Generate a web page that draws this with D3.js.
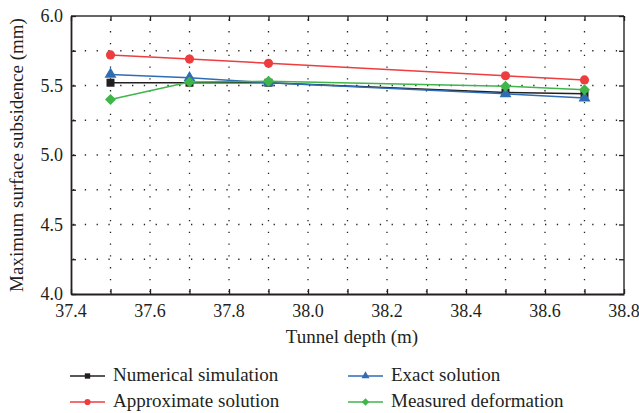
<!DOCTYPE html>
<html>
<head>
<meta charset="utf-8">
<script src="https://cdn.jsdelivr.net/npm/d3@7"></script>
<style>
  html, body { margin: 0; padding: 0; background: #fff; }
  svg { display: block; }
</style>
</head>
<body>
<svg id="chart" width="639" height="413"></svg>
<script>
// Tunnel depths (m)
const depths = [37.5, 37.7, 37.9, 38.5, 38.7];

// Maximum surface subsidence (mm) per method
const numerical   = [5.52, 5.52, 5.52, 5.45, 5.44];
const approximate = [5.72, 5.69, 5.66, 5.57, 5.54];
const exact       = [5.58, 5.555, 5.52, 5.44, 5.41];
const measured    = [5.40, 5.525, 5.53, 5.495, 5.47];

// Axis ticks
const xTicks = [37.4, 37.6, 37.8, 38.0, 38.2, 38.4, 38.6, 38.8];
const yTicks = [4.0, 4.5, 5.0, 5.5, 6.0];

const seriesNames = ["Numerical simulation", "Exact solution", "Approximate solution", "Measured deformation"];

const FONT = "'Liberation Serif', 'DejaVu Serif', serif";
const TEXT = "#231f20";

const svg = d3.select("#chart");
const m = { left: 71, right: 624, top: 16, bottom: 294 };

const x = d3.scaleLinear().domain([37.4, 38.8]).range([m.left, m.right]);
const y = d3.scaleLinear().domain([4.0, 6.0]).range([m.bottom, m.top]);

// Dotted grid: verticals every 0.1 m, horizontals every 0.25 mm
const xGrid = d3.range(37.5, 38.8, 0.1).map(v => +v.toFixed(1));
const yGrid = d3.range(4.25, 6.0, 0.25).map(v => +v.toFixed(2));

const grid = svg.append("g").attr("stroke", "#222").attr("stroke-width", 1.3)
  .attr("stroke-dasharray", "1.3,10.5");
grid.selectAll("line.v").data(xGrid).join("line")
  .attr("x1", d => x(d)).attr("x2", d => x(d))
  .attr("y1", m.bottom - 2).attr("y2", m.top + 2);
grid.selectAll("line.h").data(yGrid).join("line")
  .attr("y1", d => y(d)).attr("y2", d => y(d))
  .attr("x1", m.left + 2).attr("x2", m.right - 2);

// Frame
svg.append("line").attr("x1", m.left).attr("x2", m.right).attr("y1", m.top).attr("y2", m.top)
  .attr("stroke", "#333").attr("stroke-width", 1.5);
svg.append("line").attr("x1", m.right).attr("x2", m.right).attr("y1", m.top).attr("y2", m.bottom)
  .attr("stroke", "#666").attr("stroke-width", 2);

// Axes with inward ticks
const tickLen = 5;
const xTickAll = d3.range(37.4, 38.85, 0.1).map(v => +v.toFixed(1));
const yTickAll = d3.range(4.0, 6.01, 0.25).map(v => +v.toFixed(2));
const bottomAxis = d3.axisBottom(x).tickValues(xTickAll).tickSizeInner(-tickLen).tickSizeOuter(0).tickFormat("");
const leftAxis = d3.axisLeft(y).tickValues(yTickAll).tickSizeInner(-tickLen).tickSizeOuter(0).tickFormat("");
const topAxis = d3.axisTop(x).tickValues(xTickAll).tickSizeInner(-tickLen).tickSizeOuter(0).tickFormat("");
const rightAxis = d3.axisRight(y).tickValues(yTickAll).tickSizeInner(-tickLen).tickSizeOuter(0).tickFormat("");

function styleAxis(g, w) {
  g.select(".domain").attr("stroke", TEXT).attr("stroke-width", w);
  g.selectAll(".tick line").attr("stroke", TEXT).attr("stroke-width", 1.3);
}
svg.append("g").attr("transform", `translate(0,${m.bottom})`).call(bottomAxis).call(g => styleAxis(g, 1.8));
svg.append("g").attr("transform", `translate(${m.left},0)`).call(leftAxis).call(g => styleAxis(g, 1.8));
svg.append("g").attr("transform", `translate(0,${m.top})`).call(topAxis).call(g => { styleAxis(g, 1.5); g.select(".domain").remove(); });
svg.append("g").attr("transform", `translate(${m.right},0)`).call(rightAxis).call(g => { styleAxis(g, 2); g.select(".domain").remove(); });

// All text goes in one group carrying the serif face
const labels = svg.append("g").style("font-family", FONT).style("fill", TEXT);

// Tick labels
labels.append("g").selectAll("text").data(xTicks).join("text")
  .attr("x", d => x(d)).attr("y", m.bottom + 23)
  .attr("text-anchor", "middle").style("font-size", "18px")
  .text(d => d.toFixed(1));
labels.append("g").selectAll("text").data(yTicks).join("text")
  .attr("x", m.left - 8).attr("y", d => y(d) + 6)
  .attr("text-anchor", "end").style("font-size", "18px")
  .text(d => d.toFixed(1));

// Axis titles
labels.append("text").attr("x", 352).attr("y", 343)
  .attr("text-anchor", "middle").style("font-size", "19px").text("Tunnel depth (m)");
labels.append("text").attr("transform", `translate(23,${(m.top + m.bottom) / 2}) rotate(-90)`)
  .attr("text-anchor", "middle").style("font-size", "19px").text("Maximum surface subsidence (mm)");

// Series definitions; the diamond is a square turned 45°
const series = [
  { name: seriesNames[0], values: numerical,   color: "#231f20", shape: d3.symbolSquare,   size: 64, rot: 0 },
  { name: seriesNames[2], values: approximate, color: "#ee3d3f", shape: d3.symbolCircle,   size: 66, rot: 0 },
  { name: seriesNames[1], values: exact,       color: "#2e6db4", shape: d3.symbolTriangle, size: 62, rot: 0 },
  { name: seriesNames[3], values: measured,    color: "#3fb54a", shape: d3.symbolSquare,   size: 60, rot: 45 }
];

const line = d3.line().x(d => x(d[0])).y(d => y(d[1]));

series.forEach(s => {
  const pts = depths.map((d, i) => [d, s.values[i]]);
  const g = svg.append("g");
  g.append("path").datum(pts).attr("d", line)
    .attr("fill", "none").attr("stroke", s.color).attr("stroke-width", 1.5);
  g.selectAll("path.pt").data(pts).join("path").attr("class", "pt")
    .attr("transform", d => `translate(${x(d[0])},${y(d[1])}) rotate(${s.rot})`)
    .attr("d", d3.symbol().type(s.shape).size(s.size))
    .attr("fill", s.color);
});

// Legend
const legendItems = [
  { s: series[0], col: 0, row: 0 },
  { s: series[2], col: 1, row: 0 },
  { s: series[1], col: 0, row: 1 },
  { s: series[3], col: 1, row: 1 }
];
const colX = [70, 348];
const rowY = [376, 402];
legendItems.forEach(it => {
  const lx = colX[it.col], ly = rowY[it.row];
  const g = svg.append("g").attr("transform", `translate(${lx},${ly})`);
  g.append("line").attr("x1", 0).attr("x2", 35).attr("y1", 0).attr("y2", 0)
    .attr("stroke", it.s.color).attr("stroke-width", 1.5);
  g.append("path").attr("transform", `translate(17.5,0) rotate(${it.s.rot})`)
    .attr("d", d3.symbol().type(it.s.shape).size(it.s.size * 0.45))
    .attr("fill", it.s.color);
  g.append("text").attr("x", 43).attr("y", 5)
    .style("font-family", FONT).style("fill", TEXT).style("font-size", "19px")
    .text(it.s.name);
});
</script>
</body>
</html>
